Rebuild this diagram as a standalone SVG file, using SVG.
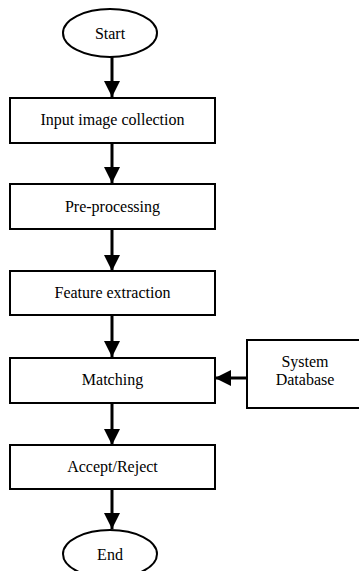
<svg xmlns="http://www.w3.org/2000/svg" width="359" height="571" viewBox="0 0 359 571">
<defs>
<style>
.shape{fill:#fff;stroke:#000;stroke-width:2}
.conn{stroke:#000;stroke-width:3;fill:none}
</style>
<marker id="ah" markerUnits="userSpaceOnUse" markerWidth="16" markerHeight="18" refX="16" refY="8" orient="auto">
<path d="M0,0 L16,8 L0,16 Z" fill="#000"/>
</marker>
</defs>
<rect width="359" height="571" fill="#fff"/>
<g id="connectors">
<line class="conn" x1="112" y1="57" x2="112" y2="97" marker-end="url(#ah)"/>
<line class="conn" x1="112" y1="143" x2="112" y2="183" marker-end="url(#ah)"/>
<line class="conn" x1="112" y1="229" x2="112" y2="271" marker-end="url(#ah)"/>
<line class="conn" x1="112" y1="315" x2="112" y2="357" marker-end="url(#ah)"/>
<line class="conn" x1="247" y1="378" x2="215" y2="378" marker-end="url(#ah)"/>
<line class="conn" x1="112" y1="403" x2="112" y2="445" marker-end="url(#ah)"/>
<line class="conn" x1="112" y1="489" x2="112" y2="529" marker-end="url(#ah)"/>
</g>
<g font-family="'Liberation Serif', 'Times New Roman', 'DejaVu Serif', serif" font-size="16" fill="#000" text-anchor="middle">
<g id="start">
<ellipse class="shape" cx="110" cy="33" rx="47" ry="24"/>
<text x="110" y="39">Start</text>
</g>
<g id="input">
<rect class="shape" x="10" y="98" width="205" height="45"/>
<text x="112.5" y="125">Input image collection</text>
</g>
<g id="preprocessing">
<rect class="shape" x="10" y="184" width="205" height="45"/>
<text x="112.5" y="212">Pre-processing</text>
</g>
<g id="feature">
<rect class="shape" x="10" y="271" width="205" height="44"/>
<text x="112.5" y="298">Feature extraction</text>
</g>
<g id="matching">
<rect class="shape" x="10" y="358" width="205" height="45"/>
<text x="112.5" y="385">Matching</text>
</g>
<g id="database">
<rect class="shape" x="247" y="340" width="120" height="68"/>
<text x="305" y="367">System</text>
<text x="305" y="385">Database</text>
</g>
<g id="accept">
<rect class="shape" x="10" y="445" width="205" height="44"/>
<text x="112.5" y="472">Accept/Reject</text>
</g>
<g id="end">
<ellipse class="shape" cx="110" cy="554" rx="47" ry="24"/>
<text x="110" y="560">End</text>
</g>
</g>
</svg>
